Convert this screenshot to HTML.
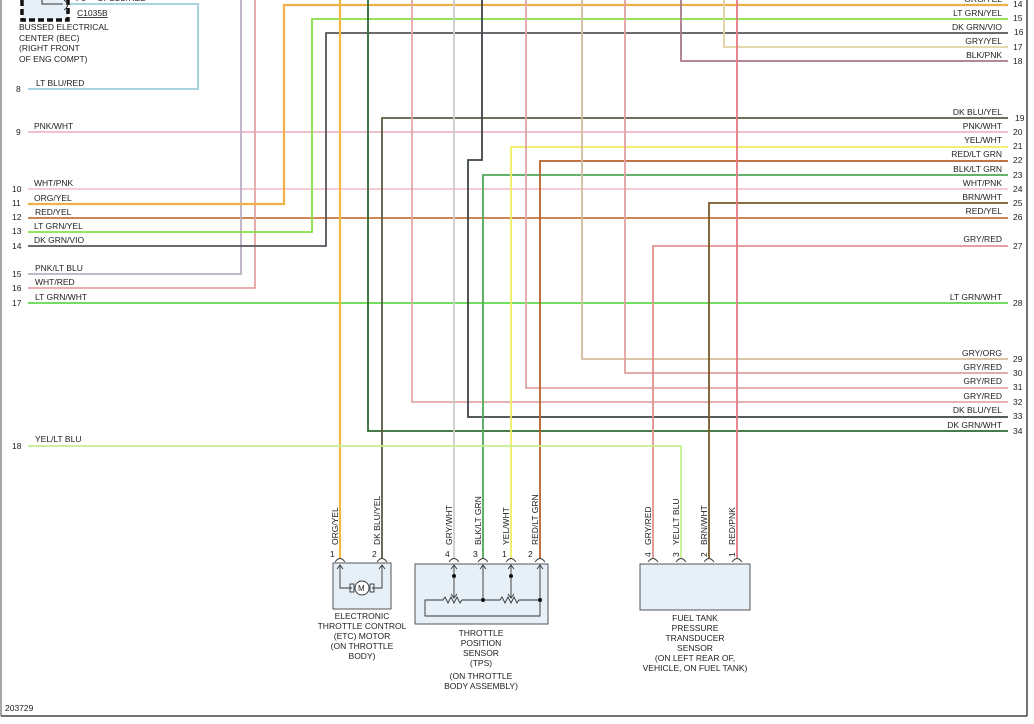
<!DOCTYPE html>
<html><head><meta charset="utf-8"><style>
html,body{margin:0;padding:0;background:#fff;}
svg{display:block;font-family:"Liberation Sans",sans-serif;}
text{font-size:8.5px;fill:#222;}
</style></head><body>
<svg width="1034" height="724" viewBox="0 0 1034 724" xmlns="http://www.w3.org/2000/svg">
<rect width="1034" height="724" fill="#fff"/>
<line x1="1" y1="0" x2="1" y2="716" stroke="#888" stroke-width="1.5"/>
<line x1="1027" y1="0" x2="1027" y2="716" stroke="#444" stroke-width="1.5"/>
<line x1="1" y1="716" x2="1027" y2="716" stroke="#444" stroke-width="1.5"/>
<text x="5" y="711">203729</text>

<!-- BEC -->
<rect x="22" y="-2" width="46" height="22" fill="#e6f0f8"/>
<path d="M22,0 V20 H68 V0" fill="none" stroke="#111" stroke-width="3.5" stroke-dasharray="6,3"/>
<path d="M42,0 V4 H63" fill="none" stroke="#333" stroke-width="1"/>
<path d="M64,0 Q71,5 64,10" fill="none" stroke="#333" stroke-width="1"/>
<text x="76" y="1">F3</text><text x="98" y="1">LT BLU/RED</text>
<path d="M70,4 H198 V89 H28" fill="none" stroke="#a8d4e0" stroke-width="2"/>
<text x="77" y="16" text-decoration="underline">C1035B</text>
<text x="19" y="30">BUSSED ELECTRICAL</text>
<text x="19" y="41">CENTER (BEC)</text>
<text x="19" y="51">(RIGHT FRONT</text>
<text x="19" y="62">OF ENG COMPT)</text>

<g fill="none" stroke-width="1.8">
<line x1="28" y1="132" x2="1008" y2="132" stroke="#f0b8c4"/>
<line x1="28" y1="189" x2="1008" y2="189" stroke="#f2c4cc"/>
<line x1="28" y1="218" x2="1008" y2="218" stroke="#c8743a"/>
<line x1="28" y1="303" x2="1008" y2="303" stroke="#5ed84a"/>
<path d="M241,0 V274 H28" stroke="#bcaec4"/>
<path d="M255,0 V288 H28" stroke="#e4a4a4"/>
<path d="M1008,5 H284 V204 H28" stroke="#f0b048" stroke-width="2.2"/>
<path d="M1008,19 H312 V232 H28" stroke="#88e040"/>
<path d="M1008,33 H326 V246 H28" stroke="#58545c"/>
<path d="M724,0 V47 H1008" stroke="#e2d2a2"/>
<path d="M681,0 V61 H1008" stroke="#a87888"/>
<line x1="340" y1="0" x2="340" y2="558" stroke="#f0b840" stroke-width="2.2"/>
<path d="M368,0 V431 H1008" stroke="#2e6a2e"/>
<path d="M1008,118 H382 V558" stroke="#5a5c40"/>
<path d="M412,0 V402 H1008" stroke="#e4a8a8"/>
<line x1="454" y1="0" x2="454" y2="558" stroke="#cccccc"/>
<path d="M482,0 V160 H468 V417 H1008" stroke="#3c4448"/>
<path d="M1008,175 H483 V558" stroke="#50a858"/>
<path d="M1008,147 H511 V558" stroke="#f0ec60"/>
<path d="M526,0 V388 H1008" stroke="#e2a4a8"/>
<path d="M1008,161 H540 V558" stroke="#b8602c"/>
<path d="M582,0 V359 H1008" stroke="#d4bc9c"/>
<path d="M625,0 V373 H1008" stroke="#e2a0a0"/>
<path d="M1008,246 H653 V558" stroke="#e49090"/>
<path d="M28,446 H681 V558" stroke="#c4f08c"/>
<path d="M1008,203 H709 V558" stroke="#7a5a24"/>
<line x1="737" y1="0" x2="737" y2="558" stroke="#e87884"/>
</g>

<g>
<text x="36" y="86">LT BLU/RED</text><text x="16" y="92">8</text>
<text x="34" y="129">PNK/WHT</text><text x="16" y="135">9</text>
<text x="34" y="186">WHT/PNK</text><text x="12" y="192">10</text>
<text x="34" y="201">ORG/YEL</text><text x="12" y="206">11</text>
<text x="35" y="215">RED/YEL</text><text x="12" y="220">12</text>
<text x="34" y="229">LT GRN/YEL</text><text x="12" y="234">13</text>
<text x="34" y="243">DK GRN/VIO</text><text x="12" y="249">14</text>
<text x="35" y="271">PNK/LT BLU</text><text x="12" y="277">15</text>
<text x="35" y="285">WHT/RED</text><text x="12" y="291">16</text>
<text x="35" y="300">LT GRN/WHT</text><text x="12" y="306">17</text>
<text x="35" y="442">YEL/LT BLU</text><text x="12" y="449">18</text>
</g>
<g text-anchor="end">
<text x="1002" y="2">ORG/YEL</text>
<text x="1002" y="16">LT GRN/YEL</text>
<text x="1002" y="30">DK GRN/VIO</text>
<text x="1002" y="44">GRY/YEL</text>
<text x="1002" y="58">BLK/PNK</text>
<text x="1002" y="115">DK BLU/YEL</text>
<text x="1002" y="129">PNK/WHT</text>
<text x="1002" y="143">YEL/WHT</text>
<text x="1002" y="157">RED/LT GRN</text>
<text x="1002" y="172">BLK/LT GRN</text>
<text x="1002" y="186">WHT/PNK</text>
<text x="1002" y="200">BRN/WHT</text>
<text x="1002" y="214">RED/YEL</text>
<text x="1002" y="242">GRY/RED</text>
<text x="1002" y="300">LT GRN/WHT</text>
<text x="1002" y="356">GRY/ORG</text>
<text x="1002" y="370">GRY/RED</text>
<text x="1002" y="384">GRY/RED</text>
<text x="1002" y="399">GRY/RED</text>
<text x="1002" y="413">DK BLU/YEL</text>
<text x="1002" y="428">DK GRN/WHT</text>
</g>
<g>
<text x="1013" y="7">14</text><text x="1013" y="21">15</text><text x="1014" y="35">16</text>
<text x="1013" y="50">17</text><text x="1013" y="64">18</text><text x="1015" y="121">19</text>
<text x="1013" y="135">20</text><text x="1013" y="149">21</text><text x="1013" y="163">22</text>
<text x="1013" y="178">23</text><text x="1013" y="192">24</text><text x="1013" y="206">25</text>
<text x="1013" y="220">26</text><text x="1013" y="249">27</text><text x="1013" y="306">28</text>
<text x="1013" y="362">29</text><text x="1013" y="376">30</text><text x="1013" y="390">31</text>
<text x="1013" y="405">32</text><text x="1013" y="419">33</text><text x="1013" y="434">34</text>
</g>

<g>
<text transform="translate(338,545) rotate(-90)">ORG/YEL</text>
<text transform="translate(380,545) rotate(-90)">DK BLU/YEL</text>
<text transform="translate(452,545) rotate(-90)">GRY/WHT</text>
<text transform="translate(481,545) rotate(-90)">BLK/LT GRN</text>
<text transform="translate(509,545) rotate(-90)">YEL/WHT</text>
<text transform="translate(538,545) rotate(-90)">RED/LT GRN</text>
<text transform="translate(651,545) rotate(-90)">GRY/RED</text>
<text transform="translate(679,545) rotate(-90)">YEL/LT BLU</text>
<text transform="translate(707,545) rotate(-90)">BRN/WHT</text>
<text transform="translate(735,545) rotate(-90)">RED/PNK</text>
</g>
<g>
<text x="330" y="557">1</text><text x="372" y="557">2</text>
<text x="445" y="557">4</text><text x="473" y="557">3</text><text x="502" y="557">1</text><text x="528" y="557">2</text>
<text transform="translate(651,557) rotate(-90)">4</text>
<text transform="translate(679,557) rotate(-90)">3</text>
<text transform="translate(707,557) rotate(-90)">2</text>
<text transform="translate(735,557) rotate(-90)">1</text>
</g>
<g fill="none" stroke="#333" stroke-width="0.9">
<path d="M335,562 Q340,555 345,562"/><path d="M377,562 Q382,555 387,562"/>
<path d="M449,562 Q454,555 459,562"/><path d="M478,562 Q483,555 488,562"/>
<path d="M506,562 Q511,555 516,562"/><path d="M535,562 Q540,555 545,562"/>
<path d="M648,562 Q653,555 658,562"/><path d="M676,562 Q681,555 686,562"/>
<path d="M704,562 Q709,555 714,562"/><path d="M732,562 Q737,555 742,562"/>
</g>

<rect x="333" y="563" width="58" height="46" fill="#e6f0f8" stroke="#555" stroke-width="1"/>
<g fill="none" stroke="#333" stroke-width="0.9">
<path d="M340,566 V588 H352"/><path d="M382,566 V588 H372"/>
<path d="M337,569 L340,565 L343,569"/><path d="M379,569 L382,565 L385,569"/>
<rect x="350" y="584" width="4" height="8"/><rect x="370" y="584" width="4" height="8"/>
<circle cx="362" cy="588" r="7" fill="#fff"/>
</g>
<text x="358" y="591" style="font-size:8px">M</text>
<g text-anchor="middle">
<text x="362" y="619">ELECTRONIC</text>
<text x="362" y="629">THROTTLE CONTROL</text>
<text x="362" y="639">(ETC) MOTOR</text>
<text x="362" y="649">(ON THROTTLE</text>
<text x="362" y="659">BODY)</text>
</g>

<rect x="415" y="564" width="133" height="60" fill="#e6f0f8" stroke="#555" stroke-width="1"/>
<g fill="none" stroke="#333" stroke-width="0.9">
<path d="M454,566 V598"/><path d="M451,569 L454,565 L457,569"/><path d="M451,594 L454,598 L457,594"/>
<path d="M483,566 V600"/><path d="M480,569 L483,565 L486,569"/>
<path d="M511,566 V598"/><path d="M508,569 L511,565 L514,569"/><path d="M508,594 L511,598 L514,594"/>
<path d="M540,566 V616 H425 V600 H443 l2,-3 l3,6 l3,-6 l3,6 l3,-6 l3,6 l2,-3 H500 l2,-3 l3,6 l3,-6 l3,6 l3,-6 l3,6 l2,-3 H540"/>
<path d="M537,569 L540,565 L543,569"/>
</g>
<g fill="#111"><circle cx="454" cy="576" r="2"/><circle cx="511" cy="576" r="2"/><circle cx="483" cy="600" r="2"/><circle cx="540" cy="600" r="2"/></g>
<g text-anchor="middle">
<text x="481" y="636">THROTTLE</text>
<text x="481" y="646">POSITION</text>
<text x="481" y="656">SENSOR</text>
<text x="481" y="666">(TPS)</text>
<text x="481" y="679">(ON THROTTLE</text>
<text x="481" y="689">BODY ASSEMBLY)</text>
</g>

<rect x="640" y="564" width="110" height="46" fill="#e6f0f8" stroke="#555" stroke-width="1"/>
<g text-anchor="middle">
<text x="695" y="621">FUEL TANK</text>
<text x="695" y="631">PRESSURE</text>
<text x="695" y="641">TRANSDUCER</text>
<text x="695" y="651">SENSOR</text>
<text x="695" y="661">(ON LEFT REAR OF,</text>
<text x="695" y="671">VEHICLE, ON FUEL TANK)</text>
</g>
</svg>
</body></html>
